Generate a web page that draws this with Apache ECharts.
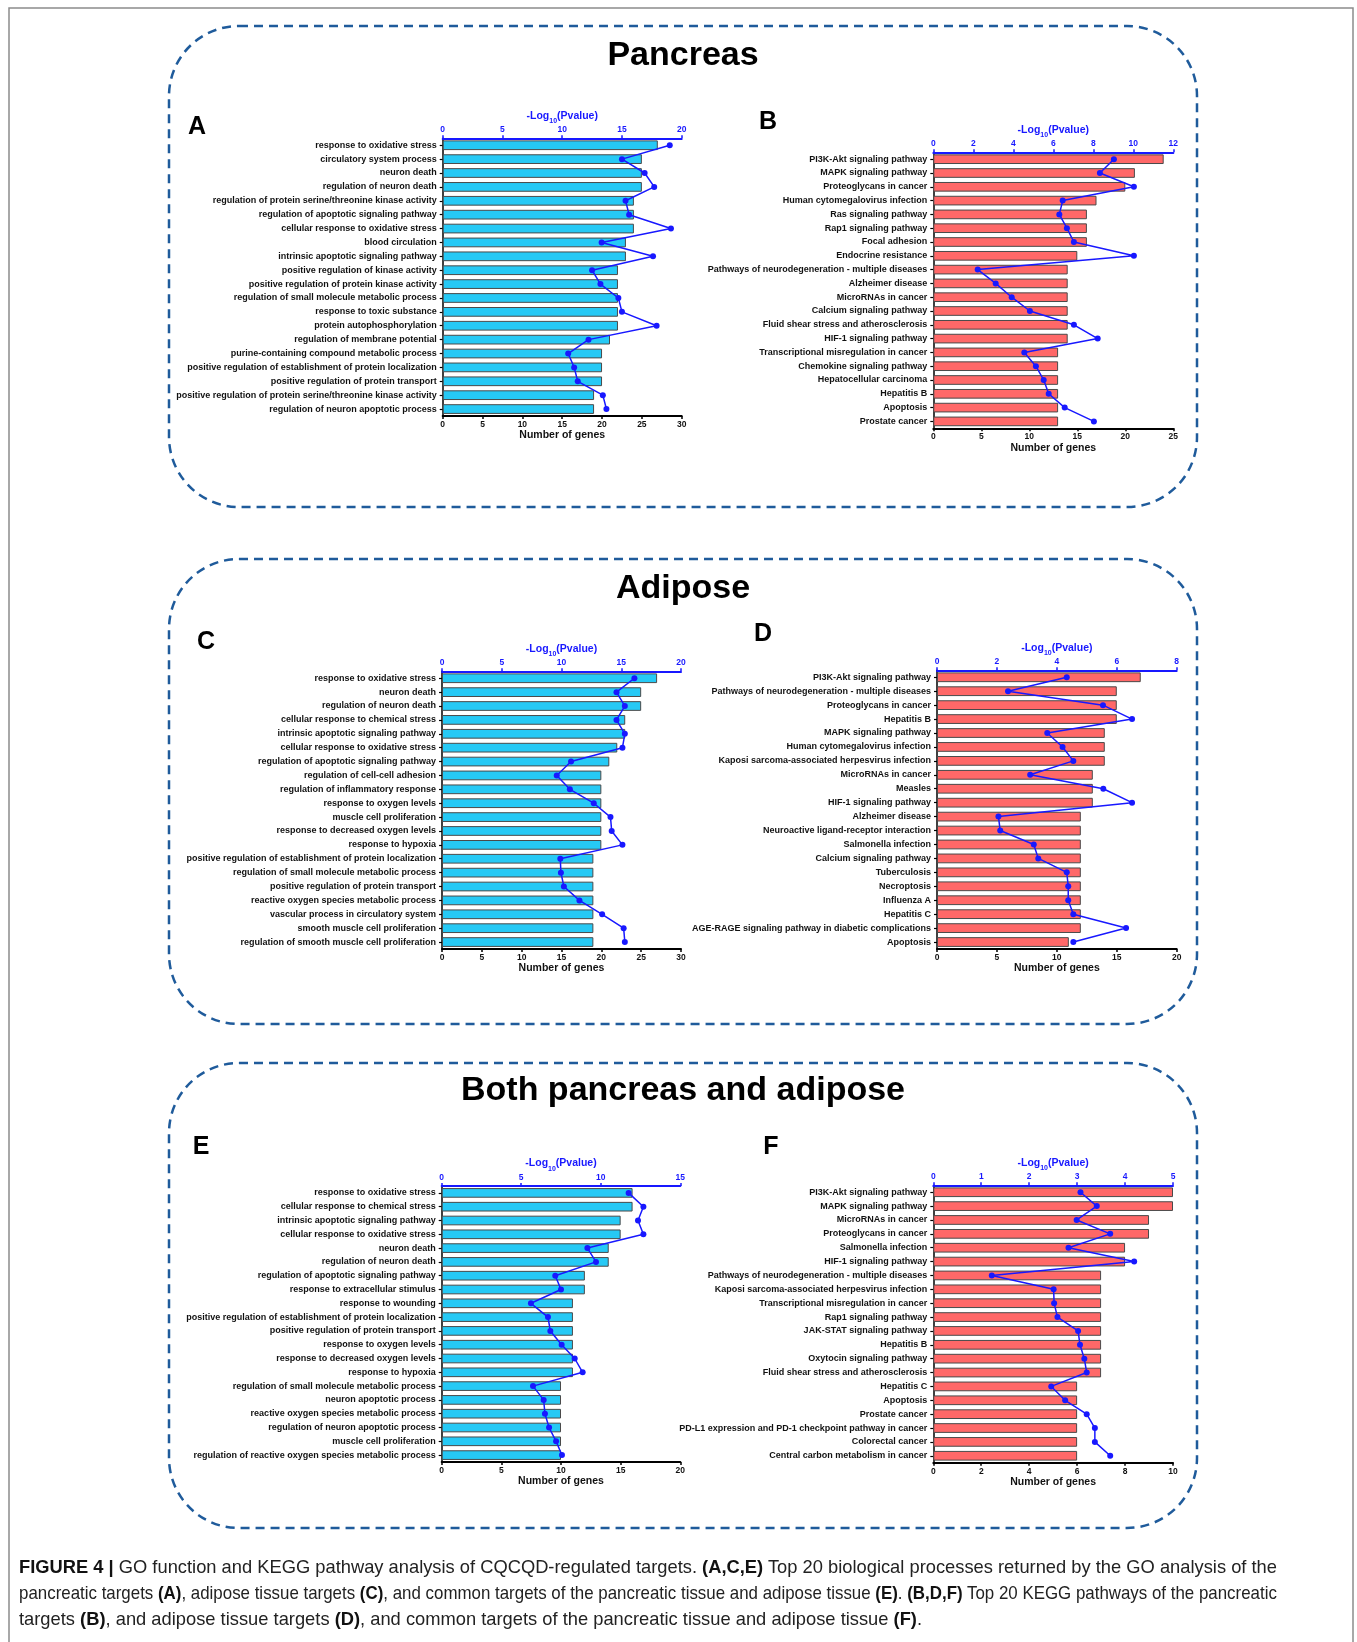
<!DOCTYPE html>
<html>
<head>
<meta charset="utf-8">
<script src="https://cdn.jsdelivr.net/npm/echarts@6/dist/echarts.min.js"></script>
<style>
  html, body { margin: 0; padding: 0; background: #fff; }
  #chart { position: absolute; left: 0; top: 0; width: 1357px; height: 1642px; }
  #caption {
    position: absolute; left: 19px; top: 1554px; width: 1258px;
    font-family: "Liberation Sans", Arial, sans-serif; font-size: 19px; line-height: 26px; color: #222;
  }
  #caption div { height: 26px; white-space: nowrap; }
  #caption span.line { display: inline-block; white-space: nowrap; transform-origin: 0 0; }
  #caption b { font-weight: bold; color: #111; }
</style>
</head>
<body>
<div id="chart"></div>
<div id="caption">
  <div><span class="line"><b>FIGURE 4 |</b> GO function and KEGG pathway analysis of CQCQD-regulated targets. <b>(A,C,E)</b> Top 20 biological processes returned by the GO analysis of the</span></div>
  <div><span class="line">pancreatic targets <b>(A)</b>, adipose tissue targets <b>(C)</b>, and common targets of the pancreatic tissue and adipose tissue <b>(E)</b>. <b>(B,D,F)</b> Top 20 KEGG pathways of the pancreatic</span></div>
  <div><span class="line">targets <b>(B)</b>, and adipose tissue targets <b>(D)</b>, and common targets of the pancreatic tissue and adipose tissue <b>(F)</b>.</span></div>
</div>
<script>
// ---- A: GO, pancreas ----
const goPancreasTerms = [
  'response to oxidative stress', 'circulatory system process', 'neuron death', 'regulation of neuron death',
  'regulation of protein serine/threonine kinase activity', 'regulation of apoptotic signaling pathway',
  'cellular response to oxidative stress', 'blood circulation', 'intrinsic apoptotic signaling pathway',
  'positive regulation of kinase activity', 'positive regulation of protein kinase activity',
  'regulation of small molecule metabolic process', 'response to toxic substance', 'protein autophosphorylation',
  'regulation of membrane potential', 'purine-containing compound metabolic process',
  'positive regulation of establishment of protein localization', 'positive regulation of protein transport',
  'positive regulation of protein serine/threonine kinase activity', 'regulation of neuron apoptotic process'
];
const goPancreasGenes = [27, 25, 25, 25, 24, 24, 24, 23, 23, 22, 22, 22, 22, 22, 21, 20, 20, 20, 19, 19];
const goPancreasLogP = [19.0, 15.0, 16.9, 17.7, 15.3, 15.6, 19.1, 13.3, 17.6, 12.5, 13.2, 14.7, 15.0, 17.9, 12.2, 10.5, 11.0, 11.3, 13.4, 13.7];

// ---- B: KEGG, pancreas ----
const keggPancreasTerms = [
  'PI3K-Akt signaling pathway', 'MAPK signaling pathway', 'Proteoglycans in cancer', 'Human cytomegalovirus infection',
  'Ras signaling pathway', 'Rap1 signaling pathway', 'Focal adhesion', 'Endocrine resistance',
  'Pathways of neurodegeneration - multiple diseases', 'Alzheimer disease', 'MicroRNAs in cancer',
  'Calcium signaling pathway', 'Fluid shear stress and atherosclerosis', 'HIF-1 signaling pathway',
  'Transcriptional misregulation in cancer', 'Chemokine signaling pathway', 'Hepatocellular carcinoma',
  'Hepatitis B', 'Apoptosis', 'Prostate cancer'
];
const keggPancreasGenes = [24, 21, 20, 17, 16, 16, 16, 15, 14, 14, 14, 14, 14, 14, 13, 13, 13, 13, 13, 13];
const keggPancreasLogP = [9.03, 8.33, 10.03, 6.47, 6.3, 6.68, 7.03, 10.03, 2.22, 3.12, 3.92, 4.83, 7.03, 8.22, 4.55, 5.13, 5.52, 5.77, 6.57, 8.03];

// ---- C: GO, adipose ----
const goAdiposeTerms = [
  'response to oxidative stress', 'neuron death', 'regulation of neuron death', 'cellular response to chemical stress',
  'intrinsic apoptotic signaling pathway', 'cellular response to oxidative stress',
  'regulation of apoptotic signaling pathway', 'regulation of cell-cell adhesion', 'regulation of inflammatory response',
  'response to oxygen levels', 'muscle cell proliferation', 'response to decreased oxygen levels',
  'response to hypoxia', 'positive regulation of establishment of protein localization',
  'regulation of small molecule metabolic process', 'positive regulation of protein transport',
  'reactive oxygen species metabolic process', 'vascular process in circulatory system',
  'smooth muscle cell proliferation', 'regulation of smooth muscle cell proliferation'
];
const goAdiposeGenes = [27, 25, 25, 23, 23, 22, 21, 20, 20, 20, 20, 20, 20, 19, 19, 19, 19, 19, 19, 19];
const goAdiposeLogP = [16.1, 14.6, 15.3, 14.6, 15.3, 15.1, 10.8, 9.6, 10.7, 12.7, 14.1, 14.2, 15.1, 9.9, 9.95, 10.2, 11.5, 13.4, 15.2, 15.3];

// ---- D: KEGG, adipose ----
const keggAdiposeTerms = [
  'PI3K-Akt signaling pathway', 'Pathways of neurodegeneration - multiple diseases', 'Proteoglycans in cancer',
  'Hepatitis B', 'MAPK signaling pathway', 'Human cytomegalovirus infection',
  'Kaposi sarcoma-associated herpesvirus infection', 'MicroRNAs in cancer', 'Measles', 'HIF-1 signaling pathway',
  'Alzheimer disease', 'Neuroactive ligand-receptor interaction', 'Salmonella infection', 'Calcium signaling pathway',
  'Tuberculosis', 'Necroptosis', 'Influenza A', 'Hepatitis C',
  'AGE-RAGE signaling pathway in diabetic complications', 'Apoptosis'
];
const keggAdiposeGenes = [17, 15, 15, 15, 14, 14, 14, 13, 13, 13, 12, 12, 12, 12, 12, 12, 12, 12, 12, 11];
const keggAdiposeLogP = [4.33, 2.37, 5.54, 6.51, 3.68, 4.19, 4.55, 3.11, 5.55, 6.51, 2.05, 2.11, 3.23, 3.38, 4.33, 4.38, 4.38, 4.55, 6.31, 4.55];

// ---- E: GO, both tissues ----
const goBothTerms = [
  'response to oxidative stress', 'cellular response to chemical stress', 'intrinsic apoptotic signaling pathway',
  'cellular response to oxidative stress', 'neuron death', 'regulation of neuron death',
  'regulation of apoptotic signaling pathway', 'response to extracellular stimulus', 'response to wounding',
  'positive regulation of establishment of protein localization', 'positive regulation of protein transport',
  'response to oxygen levels', 'response to decreased oxygen levels', 'response to hypoxia',
  'regulation of small molecule metabolic process', 'neuron apoptotic process',
  'reactive oxygen species metabolic process', 'regulation of neuron apoptotic process',
  'muscle cell proliferation', 'regulation of reactive oxygen species metabolic process'
];
const goBothGenes = [16, 16, 15, 15, 14, 14, 12, 12, 11, 11, 11, 11, 11, 11, 10, 10, 10, 10, 10, 10];
const goBothLogP = [11.75, 12.68, 12.34, 12.68, 9.16, 9.7, 7.14, 7.5, 5.61, 6.68, 6.83, 7.54, 8.36, 8.86, 5.74, 6.41, 6.49, 6.75, 7.19, 7.56];

// ---- F: KEGG, both tissues ----
const keggBothTerms = [
  'PI3K-Akt signaling pathway', 'MAPK signaling pathway', 'MicroRNAs in cancer', 'Proteoglycans in cancer',
  'Salmonella infection', 'HIF-1 signaling pathway', 'Pathways of neurodegeneration - multiple diseases',
  'Kaposi sarcoma-associated herpesvirus infection', 'Transcriptional misregulation in cancer',
  'Rap1 signaling pathway', 'JAK-STAT signaling pathway', 'Hepatitis B', 'Oxytocin signaling pathway',
  'Fluid shear stress and atherosclerosis', 'Hepatitis C', 'Apoptosis', 'Prostate cancer',
  'PD-L1 expression and PD-1 checkpoint pathway in cancer', 'Colorectal cancer', 'Central carbon metabolism in cancer'
];
const keggBothGenes = [10, 10, 9, 9, 8, 8, 7, 7, 7, 7, 7, 7, 7, 7, 6, 6, 6, 6, 6, 6];
const keggBothLogP = [3.07, 3.41, 2.99, 3.69, 2.82, 4.19, 1.22, 2.51, 2.52, 2.59, 3.02, 3.06, 3.15, 3.2, 2.46, 2.75, 3.2, 3.37, 3.37, 3.69];

// Axis ranges: [genes max, genes step, -log10 p max, -log10 p step]
const axisRanges = [
  [30, 5, 20, 5], [25, 5, 12, 2],
  [30, 5, 20, 5], [20, 5, 8, 2],
  [20, 5, 15, 5], [10, 2, 5, 1]
];

const FONT = '"Liberation Sans", Arial, Helvetica, sans-serif';
const GO_COLOR = '#26C9F5';
const KEGG_COLOR = '#FF6868';
const P_COLOR = '#1818FF';
const BOX_COLOR = '#1F5B9B';

const panels = [
  { terms: goPancreasTerms,   genes: goPancreasGenes,   logp: goPancreasLogP,   color: GO_COLOR,   rect: [442.7, 138.3, 239, 277.7] },
  { terms: keggPancreasTerms, genes: keggPancreasGenes, logp: keggPancreasLogP, color: KEGG_COLOR, rect: [933.3, 152.3, 240, 276] },
  { terms: goAdiposeTerms,    genes: goAdiposeGenes,    logp: goAdiposeLogP,    color: GO_COLOR,   rect: [442, 671.3, 239, 277.7] },
  { terms: keggAdiposeTerms,  genes: keggAdiposeGenes,  logp: keggAdiposeLogP,  color: KEGG_COLOR, rect: [937, 670.3, 239.7, 278.7] },
  { terms: goBothTerms,       genes: goBothGenes,       logp: goBothLogP,       color: GO_COLOR,   rect: [441.7, 1186, 238.6, 276] },
  { terms: keggBothTerms,     genes: keggBothGenes,     logp: keggBothLogP,     color: KEGG_COLOR, rect: [933.3, 1185.3, 239.7, 277.4] }
];

const grid = [], xAxis = [], yAxis = [], series = [];
panels.forEach((p, i) => {
  const [gMax, gStep, pMax, pStep] = axisRanges[i];
  grid.push({ left: p.rect[0], top: p.rect[1], width: p.rect[2], height: p.rect[3], containLabel: false });
  // number of genes (bottom)
  xAxis.push({
    gridIndex: i, type: 'value', position: 'bottom', min: 0, max: gMax, interval: gStep,
    splitLine: { show: false },
    axisLine: { show: true, lineStyle: { color: '#000', width: 2 } },
    axisTick: { show: true, length: 3, lineStyle: { color: '#000', width: 1.5 } },
    axisLabel: { fontSize: 8.5, fontWeight: 'bold', color: '#111', margin: 4, fontFamily: FONT },
    name: 'Number of genes', nameLocation: 'middle', nameGap: 12,
    nameTextStyle: { fontSize: 10.5, fontWeight: 'bold', color: '#111', fontFamily: FONT }
  });
  // -log10(p) (top)
  xAxis.push({
    gridIndex: i, type: 'value', position: 'top', min: 0, max: pMax, interval: pStep,
    splitLine: { show: false },
    axisLine: { show: true, onZero: false, lineStyle: { color: P_COLOR, width: 2 } },
    axisTick: { show: true, length: 3, lineStyle: { color: P_COLOR, width: 1.5 } },
    axisLabel: { fontSize: 8.5, fontWeight: 'bold', color: P_COLOR, margin: 4, fontFamily: FONT },
    name: '{t|-Log}{s|10}{t|(Pvalue)}', nameLocation: 'middle', nameGap: 14,
    nameTextStyle: {
      rich: {
        t: { fontSize: 10.5, fontWeight: 'bold', color: P_COLOR, fontFamily: FONT, verticalAlign: 'bottom', lineHeight: 13 },
        s: { fontSize: 7, fontWeight: 'bold', color: P_COLOR, fontFamily: FONT, verticalAlign: 'bottom', lineHeight: 13, padding: [0, 0, -3, 0] }
      }
    }
  });
  yAxis.push({
    gridIndex: i, type: 'category', data: p.terms, inverse: true,
    axisLine: { show: true, lineStyle: { color: '#000', width: 1.5 } },
    axisTick: { show: true, length: 3, alignWithLabel: true, lineStyle: { color: '#000', width: 1.2 } },
    axisLabel: { fontSize: 9, fontWeight: 'bold', color: '#111', margin: 6, fontFamily: FONT, interval: 0 },
    splitLine: { show: false }
  });
  series.push({
    type: 'bar', xAxisIndex: 2 * i, yAxisIndex: i, data: p.genes, barWidth: '70%',
    itemStyle: { color: p.color, borderColor: '#4a4a4a', borderWidth: 1 },
    silent: true, z: 2
  });
  series.push({
    type: 'line', xAxisIndex: 2 * i + 1, yAxisIndex: i, data: p.logp,
    symbol: 'circle', symbolSize: 6, showSymbol: true,
    lineStyle: { color: P_COLOR, width: 1.5 }, itemStyle: { color: P_COLOR },
    silent: true, z: 5
  });
});

// Section frames, headings and panel letters
const sections = [
  { title: 'Pancreas', y: 26, h: 481, ty: 56 },
  { title: 'Adipose', y: 559, h: 465, ty: 589 },
  { title: 'Both pancreas and adipose', y: 1063, h: 465, ty: 1091 }
];
const letters = [['A', 197, 127], ['B', 768, 122], ['C', 206, 642], ['D', 763, 634], ['E', 201, 1147], ['F', 771, 1147]];

const graphic = [
  { type: 'rect', shape: { x: 9, y: 8, width: 1344, height: 1700 }, style: { fill: 'none', stroke: '#8c8c8c', lineWidth: 1.5 }, silent: true, z: 0 }
];
sections.forEach((s) => {
  graphic.push({
    type: 'rect', shape: { x: 169, y: s.y, width: 1028, height: s.h, r: 70 },
    style: { fill: 'none', stroke: BOX_COLOR, lineWidth: 2.5, lineDash: [9, 6] }, silent: true, z: 0
  });
  graphic.push({
    type: 'text', x: 683, y: s.ty,
    style: { text: s.title, font: 'bold 34px ' + FONT, fill: '#000', textAlign: 'center', textVerticalAlign: 'middle' },
    silent: true, z: 10
  });
});
letters.forEach(([t, x, y]) => {
  graphic.push({
    type: 'text', x: x, y: y,
    style: { text: t, font: 'bold 25px ' + FONT, fill: '#000', textAlign: 'center', textVerticalAlign: 'middle' },
    silent: true, z: 10
  });
});

const chart = echarts.init(document.getElementById('chart'), null, { renderer: 'canvas' });
chart.setOption({
  backgroundColor: '#fff',
  animation: false,
  textStyle: { fontFamily: FONT },
  grid, xAxis, yAxis, series, graphic
});

// Caption: the first two lines are fitted to the full text width, the last keeps the first line's condensing
const captionWidth = 1258;
const lines = document.querySelectorAll('#caption span.line');
const s1 = captionWidth / lines[0].offsetWidth;
const s2 = captionWidth / lines[1].offsetWidth;
lines[0].style.transform = 'scaleX(' + s1 + ')';
lines[1].style.transform = 'scaleX(' + s2 + ')';
lines[2].style.transform = 'scaleX(' + s1 + ')';
</script>
</body>
</html>
